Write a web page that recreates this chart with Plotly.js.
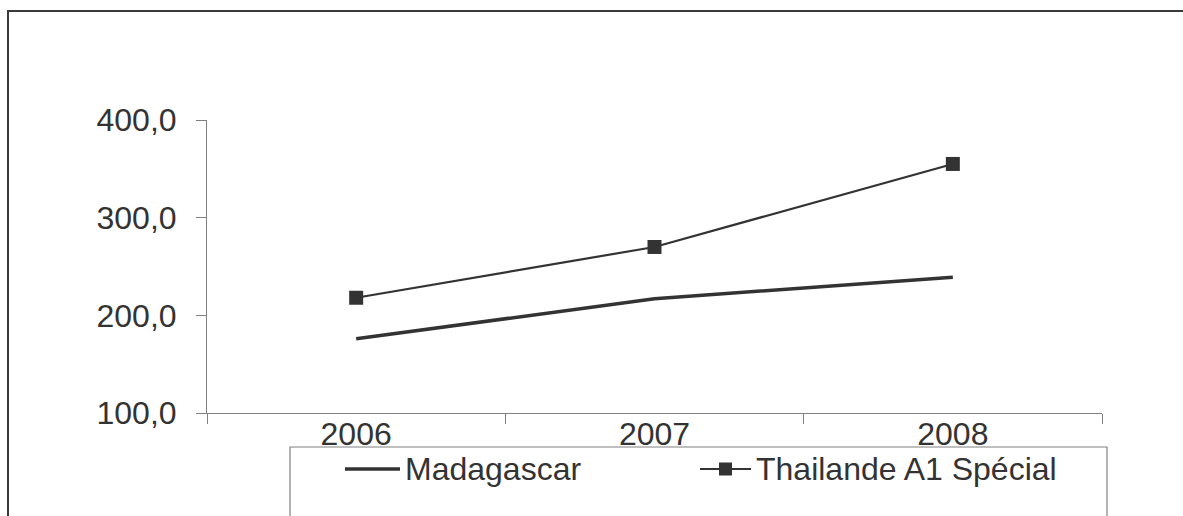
<!DOCTYPE html>
<html>
<head>
<meta charset="utf-8">
<script src="https://cdn.plot.ly/plotly-3.0.1.min.js"></script>
<style>html,body{margin:0;padding:0;background:#fff;overflow:hidden;}#chart{width:1183px;height:516px;}</style>
</head>
<body>
<div id="chart"></div>
<script>
const years = ["2006", "2007", "2008"];
const madagascar = [176, 217, 239];
const thailande = [218, 270, 355];
const seriesNames = ["Madagascar", "Thailande A1 Spécial"];
const yTicks = [100, 200, 300, 400];

const ink = "#333333";
const axisGray = "#808080";
const fontFam = "Liberation Sans, Arial, sans-serif";

const traces = [
  {x: years, y: madagascar, name: seriesNames[0], type: "scatter", mode: "lines",
   line: {color: ink, width: 3.5}, showlegend: false},
  {x: years, y: thailande, name: seriesNames[1], type: "scatter", mode: "lines+markers",
   line: {color: ink, width: 2.2}, marker: {symbol: "square", size: 14, color: ink}, showlegend: false}
];

// pixel helpers for decorative frame / legend (paper coords)
const L = 207, R = 81, T = 120, B = 103, W = 1183, H = 516;
const pw = W - L - R, ph = H - T - B;
const px = v => (v - L) / pw;
const py = v => (H - B - v) / ph;

const legY = 469;
const shapes = [
  {type: "line", xref: "paper", yref: "paper", x0: px(8), x1: px(8), y0: py(520), y1: py(10),
   line: {color: "#3a3a3a", width: 2}, layer: "below"},
  {type: "line", xref: "paper", yref: "paper", x0: px(7), x1: px(1200), y0: py(11), y1: py(11),
   line: {color: "#3a3a3a", width: 2}, layer: "below"},
  {type: "path", xref: "paper", yref: "paper",
   path: "M " + px(290) + " " + py(600) + " L " + px(290) + " " + py(447) + " L " + px(1107) + " " + py(447) + " L " + px(1107) + " " + py(600),
   line: {color: axisGray, width: 1.2}},
  {type: "line", xref: "paper", yref: "paper", x0: px(345), x1: px(400), y0: py(legY), y1: py(legY),
   line: {color: ink, width: 3.5}},
  {type: "line", xref: "paper", yref: "paper", x0: px(700), x1: px(751), y0: py(legY), y1: py(legY),
   line: {color: ink, width: 2.2}},
  {type: "rect", xref: "paper", yref: "paper", x0: px(719), x1: px(732), y0: py(legY + 6.5), y1: py(legY - 6.5),
   line: {width: 0}, fillcolor: ink}
];

const annotations = [
  {xref: "paper", yref: "paper", x: px(403), y: py(legY), xanchor: "left", yanchor: "middle",
   text: seriesNames[0], showarrow: false, font: {family: fontFam, size: 32, color: ink}},
  {xref: "paper", yref: "paper", x: px(754), y: py(legY), xanchor: "left", yanchor: "middle",
   text: seriesNames[1], showarrow: false, font: {family: fontFam, size: 32, color: ink}}
];

const layout = {
  width: W, height: H,
  margin: {l: L, r: R, t: T, b: B},
  paper_bgcolor: "#ffffff", plot_bgcolor: "#ffffff",
  separators: ", ",
  showlegend: false,
  font: {family: fontFam, color: ink},
  xaxis: {
    type: "category", range: [-0.5, 2.5], tickson: "boundaries",
    ticks: "outside", ticklen: 10, tickcolor: axisGray, tickwidth: 1,
    showline: true, linecolor: axisGray, linewidth: 1,
    showgrid: false, zeroline: false,
    tickfont: {family: fontFam, size: 32, color: ink},
    ticklabelstandoff: -7, fixedrange: true
  },
  yaxis: {
    range: [100, 400], tickvals: yTicks, tickformat: ".1f",
    ticks: "outside", ticklen: 10, tickcolor: axisGray, tickwidth: 1,
    showline: true, linecolor: axisGray, linewidth: 1,
    showgrid: false, zeroline: false,
    tickfont: {family: fontFam, size: 32, color: ink},
    ticklabelstandoff: 13, fixedrange: true
  },
  shapes: shapes,
  annotations: annotations
};

Plotly.newPlot("chart", traces, layout, {displayModeBar: false, staticPlot: true});
</script>
</body>
</html>
